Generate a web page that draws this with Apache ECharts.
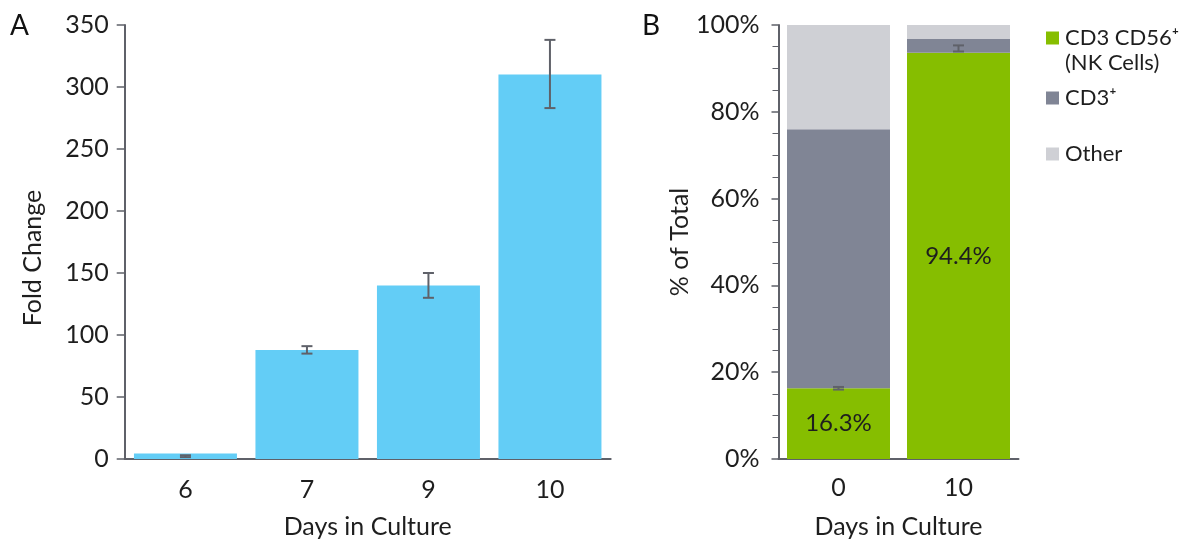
<!DOCTYPE html>
<html>
<head>
<meta charset="utf-8">
<script src="https://cdn.jsdelivr.net/npm/echarts@6/dist/echarts.min.js"></script>
<style>
html,body{margin:0;padding:0;background:#fff;}
#c{width:1188px;height:544px;}
</style>
</head>
<body>
<div id="c"></div>
<script>
// Panel A data
const daysA = ['6', '7', '9', '10'];
const foldChange = [4.5, 88, 140, 310];
const foldLow = [1.5, 85, 130, 283];
const foldHigh = [3, 91, 150, 338];
const ticksA = [0, 50, 100, 150, 200, 250, 300, 350];

// Panel B data
const daysB = ['0', '10'];
const nkCells = [16.3, 93.6];
const cd3 = [59.7, 3.2];
const other = [24.0, 3.2];
const nkLabels = ['16.3%', '94.4%'];
const errLowB = [16.0, 93.9];
const errHighB = [16.6, 95.3];
const seriesNames = ['CD3 CD56\u207A', 'CD3\u207A', 'Other'];

const FONT = 'Lato, "Open Sans", sans-serif';
const TXT = '#1e1e1e';
const AX = '#5f6169';
const FS = 25;

const chart = echarts.init(document.getElementById('c'));

function errorBar(xIdx, yIdx, lows, highs) {
  return {
    type: 'custom',
    xAxisIndex: xIdx,
    yAxisIndex: yIdx,
    silent: true,
    z: 10,
    data: lows.map((l, i) => [i, l, highs[i]]),
    renderItem: function (params, api) {
      const x = api.value(0);
      const lo = api.coord([x, api.value(1)]);
      const hi = api.coord([x, api.value(2)]);
      const hw = 5.5;
      const style = { stroke: AX, lineWidth: 2 };
      return {
        type: 'group',
        children: [
          { type: 'line', shape: { x1: lo[0], y1: lo[1], x2: hi[0], y2: hi[1] }, style: style },
          { type: 'line', shape: { x1: lo[0] - hw, y1: lo[1], x2: lo[0] + hw, y2: lo[1] }, style: style },
          { type: 'line', shape: { x1: hi[0] - hw, y1: hi[1], x2: hi[0] + hw, y2: hi[1] }, style: style }
        ]
      };
    }
  };
}

const axisLabelStyle = { color: TXT, fontSize: FS, fontFamily: FONT };
const nameStyle = { color: TXT, fontSize: FS, fontFamily: FONT };
const legendText = { color: TXT, fontSize: 22, fontFamily: FONT, padding: [0, 0, 0, 1] };

const option = {
  backgroundColor: '#fff',
  animation: false,
  textStyle: { fontFamily: FONT },
  grid: [
    { left: 124.7, top: 25, width: 486, height: 438, containLabel: false },
    { left: 778.5, top: 25, width: 240, height: 437, containLabel: false }
  ],
  xAxis: [
    {
      type: 'category', gridIndex: 0, data: daysA,
      axisLine: { lineStyle: { color: AX, width: 2 } },
      axisTick: { show: false },
      axisLabel: Object.assign({ margin: 18 }, axisLabelStyle),
      name: 'Days in Culture', nameLocation: 'middle', nameGap: 55, nameTextStyle: nameStyle
    },
    {
      type: 'category', gridIndex: 1, data: daysB,
      axisLine: { lineStyle: { color: AX, width: 2 } },
      axisTick: { show: false },
      axisLabel: Object.assign({ margin: 16 }, axisLabelStyle),
      name: 'Days in Culture', nameLocation: 'middle', nameGap: 55, nameTextStyle: nameStyle
    }
  ],
  yAxis: [
    {
      type: 'value', gridIndex: 0, min: ticksA[0], max: ticksA[ticksA.length - 1], interval: 50,
      axisLine: { show: true, lineStyle: { color: AX, width: 2 } },
      axisTick: { show: true, length: 8, lineStyle: { color: AX, width: 1.5 } },
      splitLine: { show: false },
      axisLabel: Object.assign({ margin: 16 }, axisLabelStyle),
      name: 'Fold Change', nameLocation: 'middle', nameGap: 79,
      nameTextStyle: Object.assign({ padding: [0, 32, 0, 0] }, nameStyle)
    },
    {
      type: 'value', gridIndex: 1, min: 0, max: 100, interval: 20,
      axisLine: { show: true, lineStyle: { color: AX, width: 2 } },
      axisTick: { show: true, length: 7, lineStyle: { color: AX, width: 1.5 } },
      minorTick: { show: true, splitNumber: 4, length: 6, lineStyle: { color: AX, width: 1 } },
      splitLine: { show: false },
      axisLabel: Object.assign({ margin: 19, formatter: '{value}%' }, axisLabelStyle),
      name: '% of Total', nameLocation: 'middle', nameGap: 83, nameTextStyle: nameStyle
    }
  ],
  legend: [
    {
      data: [seriesNames[0]], left: 1041, top: 22, itemWidth: 13, itemHeight: 13,
      icon: 'rect', selectedMode: false, textStyle: legendText
    },
    {
      data: [seriesNames[1]], left: 1041, top: 82, itemWidth: 13, itemHeight: 13,
      icon: 'rect', selectedMode: false, textStyle: legendText
    },
    {
      data: [seriesNames[2]], left: 1041, top: 138, itemWidth: 13, itemHeight: 13,
      icon: 'rect', selectedMode: false, textStyle: legendText
    }
  ],
  graphic: [
    { type: 'text', left: 10, top: 12, style: { text: 'A', fontSize: 28, fontFamily: FONT, fill: '#111' } },
    { type: 'text', left: 642, top: 12, style: { text: 'B', fontSize: 28, fontFamily: FONT, fill: '#111' } },
    { type: 'text', left: 1065, top: 52, style: { text: '(NK Cells)', fontSize: 22, fontFamily: FONT, fill: TXT } }
  ],
  series: [
    {
      type: 'bar', xAxisIndex: 0, yAxisIndex: 0, data: foldChange, barWidth: 103,
      itemStyle: { color: '#63CDF6' }
    },
    errorBar(0, 0, foldLow, foldHigh),
    {
      name: seriesNames[0], type: 'bar', stack: 'b', xAxisIndex: 1, yAxisIndex: 1, data: nkCells, barWidth: 103,
      itemStyle: { color: '#86BE00' },
      label: {
        show: true, position: 'inside', color: TXT, fontSize: 24, fontFamily: FONT,
        formatter: p => nkLabels[p.dataIndex]
      }
    },
    {
      name: seriesNames[1], type: 'bar', stack: 'b', xAxisIndex: 1, yAxisIndex: 1, data: cd3, barWidth: 103,
      itemStyle: { color: '#808595' }
    },
    {
      name: seriesNames[2], type: 'bar', stack: 'b', xAxisIndex: 1, yAxisIndex: 1, data: other, barWidth: 103,
      itemStyle: { color: '#CFD0D5' }
    },
    errorBar(1, 1, errLowB, errHighB)
  ]
};
chart.setOption(option);
</script>
</body>
</html>
